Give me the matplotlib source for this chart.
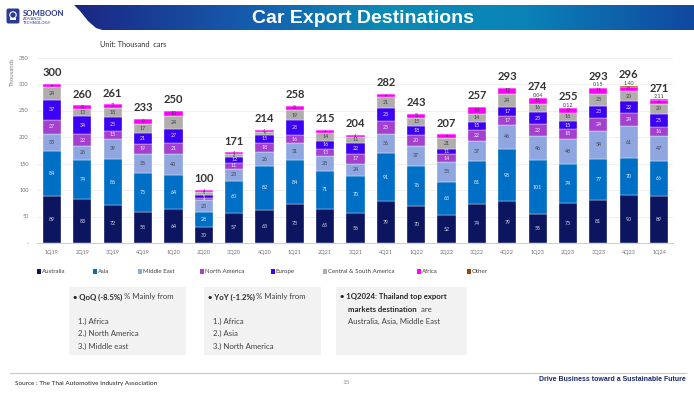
import matplotlib
matplotlib.use("Agg")
import matplotlib.pyplot as plt
import numpy as np
from matplotlib.patches import Rectangle, Polygon, FancyBboxPatch, Circle
from matplotlib.colors import LinearSegmentedColormap

plt.rcParams['font.family'] = ['Lato', 'DejaVu Sans']

# ---------------- data ----------------
quarters = ["1Q19", "2Q19", "3Q19", "4Q19", "1Q20", "2Q20", "3Q20", "4Q20", "1Q21", "2Q21", "3Q21",
            "4Q21", "1Q22", "2Q22", "3Q22", "4Q22", "1Q23", "2Q23", "3Q23", "4Q23", "1Q24"]
australia = [89, 83, 72, 58, 64, 30, 57, 63, 73, 65, 56, 79, 70, 52, 74, 79, 55, 75, 81, 90, 89]
asia = [84, 74, 86, 75, 64, 28, 60, 82, 84, 71, 70, 91, 76, 63, 81, 98, 101, 74, 77, 70, 66]
middle_east = [33, 26, 39, 35, 40, 23, 23, 26, 31, 28, 24, 36, 37, 38, 37, 46, 46, 48, 54, 61, 47]
north_america = [27, 22, 15, 19, 21, 4, 11, 18, 16, 13, 17, 25, 20, 14, 22, 17, 22, 18, 24, 24, 16]
europe = [37, 34, 25, 21, 27, 6, 12, 15, 28, 16, 22, 23, 18, 11, 15, 17, 23, 15, 23, 22, 25]
central_south_america = [24, 13, 18, 17, 24, 5, 4, 6, 19, 14, 11, 21, 15, 21, 14, 24, 16, 16, 23, 20, 20]
africa = [6, 8, 7, 9, 10, 4, 4, 4, 8, 6, 4, 6, 8, 6, 14, 12, 11, 9, 11, 8, 6]
other = [0, 0, 0, 0, 0, 0, 0, 0, 0, 0, 0, 0, 0, 0, 0, 0, 0.04, 0.12, 0.15, 1.40, 2.11]
totals = [300, 260, 261, 233, 250, 100, 171, 214, 258, 215, 204, 282, 243, 207, 257, 293, 274, 255, 293, 296, 271]

series_names = ["Australia", "Asia", "Middle East", "North America", "Europe",
                "Central & South America", "Africa", "Other"]
series_values = [australia, asia, middle_east, north_america, europe,
                 central_south_america, africa, other]
series_colors = ["#0c1560", "#0070c6", "#8fa6e0", "#a43fd0", "#3c00f5", "#b0adad", "#ff00ff", "#a64000"]
label_colors = ["#d8d8e8", "#e8eef8", "#404040", "#f0e8f8", "#e8e8ff", "#404040", "#404040", "#404040"]

W, H = 694, 398
fig = plt.figure(figsize=(W / 100, H / 100), dpi=100)

# background axes in pixel coordinates
bg = fig.add_axes([0, 0, 1, 1])
bg.set_xlim(0, W)
bg.set_ylim(H, 0)
bg.axis("off")

# header banner with gradient
cmap = LinearSegmentedColormap.from_list("hdr", [(0, "#1b2683"), (0.3, "#1560b0"), (0.5, "#0a8bb5"),
                                                 (0.72, "#0a84b8"), (1.0, "#1148a0")])
grad = np.linspace(0, 1, 256).reshape(1, -1)
im = bg.imshow(grad, cmap=cmap, extent=[74, W, 30.5, 5], aspect="auto", zorder=1)
clip = Polygon([(74, 5), (W, 5), (W, 30.5), (104, 30.5), (96, 28), (88, 21), (80, 11)],
               closed=True, transform=bg.transData, facecolor="none", edgecolor="none")
bg.add_patch(clip)
im.set_clip_path(clip)
bg.text(363, 18.5, "Car Export Destinations", color="white", fontsize=14, fontweight="bold",
        family=["Liberation Sans", "DejaVu Sans"], ha="center", va="center", zorder=3)

# logo
bg.add_patch(FancyBboxPatch((7, 9), 12, 14, boxstyle="round,pad=0.5,rounding_size=2",
                            facecolor="#2b3a92", edgecolor="none", zorder=2))
bg.add_patch(Circle((13, 15), 3.2, facecolor="none", edgecolor="white", lw=0.8, zorder=3))
bg.add_patch(Rectangle((10, 18), 6, 2, facecolor="white", edgecolor="none", zorder=3))
bg.text(23, 13.5, "SOMBOON", color="#2b3a92", fontsize=5.6, fontweight="bold", va="center", ha="left")
bg.text(23, 19.3, "ADVANCE", color="#2b3a92", fontsize=3, va="center", ha="left")
bg.text(23, 23.3, "TECHNOLOGY", color="#2b3a92", fontsize=3, va="center", ha="left")

bg.text(100, 44.5, "Unit: Thousand  cars", color="#303030", fontsize=5.3, va="center", ha="left")
bg.text(12, 72, "Thousands", color="#808080", fontsize=4.3, rotation=90, va="center", ha="center")

# ---------------- chart ----------------
ax = fig.add_axes([37 / W, (H - 243) / H, (673 - 37) / W, (243 - 57.5) / H])
ax.patch.set_alpha(0)
x = np.arange(len(quarters))
bottom = np.zeros(len(quarters))
for name, vals, col, lcol in zip(series_names, series_values, series_colors, label_colors):
    vals = np.array(vals, dtype=float)
    ax.bar(x, vals, width=0.6, bottom=bottom, color=col, edgecolor="white", linewidth=0.25, zorder=2)
    if name != "Other":
        for xi, b, v in zip(x, bottom, vals):
            if v > 0:
                ax.text(xi, b + v / 2, f"{v:.0f}", ha="center", va="center",
                        fontsize=3.8 if v >= 7 else 2.8, color=lcol, zorder=3)
    else:
        for xi, b, v in zip(x, bottom, vals):
            if v > 0:
                ax.text(xi, b + v + 5, f"{v:.2f}", ha="center", va="center", fontsize=3.9,
                        color="#404040", zorder=3)
    bottom += vals

for xi, tot, t in zip(x, bottom, totals):
    ax.text(xi, tot + 21, str(t), ha="center", va="center", fontsize=8, fontweight="bold",
            color="#333333", zorder=3)

ax.set_xlim(-0.494, 20.46)
ax.set_ylim(0, 350)
ax.set_xticks(x)
ax.set_xticklabels(quarters)
yt = np.arange(0, 351, 50)
ax.set_yticks(yt)
ax.set_yticklabels(["-"] + [str(v) for v in yt[1:]])
ax.tick_params(axis="both", length=0, labelsize=4, labelcolor="#707070")
ax.tick_params(axis="x", pad=5)
ax.tick_params(axis="y", pad=6)
for s in ["top", "right", "left"]:
    ax.spines[s].set_visible(False)
ax.spines["bottom"].set_color("#d0d0d0")
ax.spines["bottom"].set_linewidth(0.8)
ax.grid(axis="y", color="#ececec", linewidth=0.6, zorder=0)
ax.set_axisbelow(True)

# legend (manual row)
legend_x = [37, 93, 138, 200.5, 271, 323, 417, 467]
for name, col, lx in zip(series_names, series_colors, legend_x):
    bg.add_patch(Rectangle((lx, 269), 4, 4.5, facecolor=col, edgecolor="none"))
    bg.text(lx + 5, 271.5, name, fontsize=4.4, color="#404040", va="center", ha="left")

# ---------------- text boxes ----------------
for (bx0, bx1) in [(69, 186), (204, 321), (336, 467)]:
    bg.add_patch(Rectangle((bx0, 287), bx1 - bx0, 68, facecolor="#f2f2f2", edgecolor="none"))

fig.canvas.draw()
renderer = fig.canvas.get_renderer()


def two_part(xp, yp, bold_text, reg_text, size=5.6):
    t = bg.text(xp, yp, bold_text, fontsize=size, fontweight="bold", color="#262626",
                va="center", ha="left")
    ext = t.get_window_extent(renderer=renderer)
    x_end = bg.transData.inverted().transform((ext.x1, ext.y0))[0]
    bg.text(x_end + 1.5, yp, reg_text, fontsize=size, color="#404040", va="center", ha="left")


two_part(73, 297, "• QoQ (-8.5%)", "% Mainly from")
for i, s in enumerate(["1.) Africa", "2.) North America", "3.) Middle east"]):
    bg.text(78, 321 + i * 12.5, s, fontsize=5.6, color="#404040", va="center", ha="left")
two_part(208, 297, "• YoY (-1.2%)", "% Mainly from")
for i, s in enumerate(["1.) Africa", "2.) Asia", "3.) North America"]):
    bg.text(213, 321 + i * 12.5, s, fontsize=5.6, color="#404040", va="center", ha="left")
bg.text(340, 296, "• 1Q2024: Thailand top export", fontsize=5.6, fontweight="bold", color="#262626",
        va="center", ha="left")
two_part(348.5, 309, "markets destination", " are")
bg.text(348.5, 321, "Australia, Asia, Middle East", fontsize=5.6, color="#404040", va="center", ha="left")

# ---------------- footer ----------------
bg.plot([10, 686], [373, 373], color="#c8c8c8", lw=0.8)
bg.text(15, 383.5, "Source : The Thai Automotive Industry Association", fontsize=4.6, color="#202020",
        va="center", ha="left")
bg.text(346, 382.5, "15", fontsize=4.6, color="#909090", va="center", ha="center")
bg.text(686, 379.5, "Drive Business toward a Sustainable Future", fontsize=5, fontweight="bold",
        color="#1b2a6b", va="center", ha="right", family=["Liberation Sans Narrow", "Liberation Sans", "DejaVu Sans"])

fig.savefig("out.png", dpi=100)
